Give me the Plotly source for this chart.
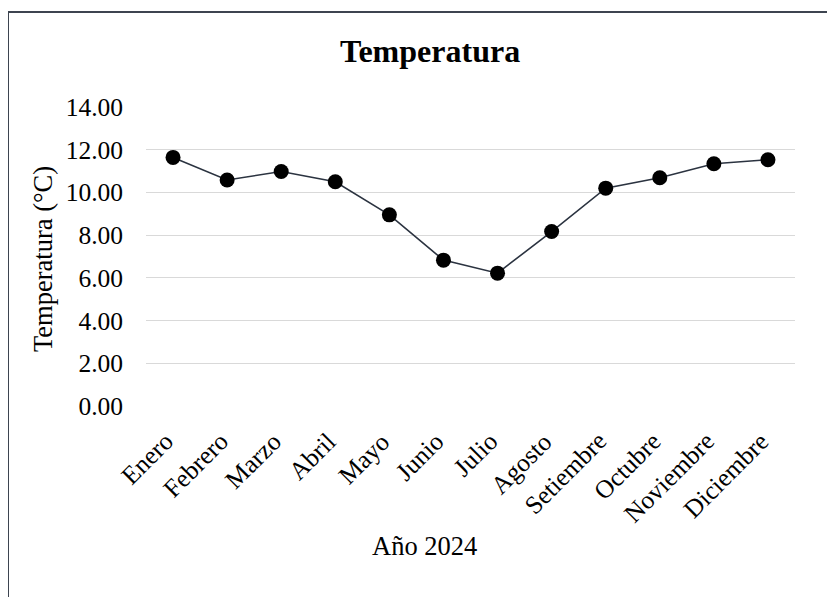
import plotly.graph_objects as go

months = ["Enero", "Febrero", "Marzo", "Abril", "Mayo", "Junio", "Julio",
          "Agosto", "Setiembre", "Octubre", "Noviembre", "Diciembre"]
temps = [11.64, 10.58, 10.98, 10.50, 8.95, 6.83, 6.22, 8.17, 10.20, 10.69, 11.34, 11.53]
y_ticks = [0, 2, 4, 6, 8, 10, 12, 14]
y_tick_text = [f"{v:.2f}" for v in y_ticks]

OFF = 8  # page body margin
W, H = 835, 597
# target plot area in screen pixels
SX0, SX1, SY0, SY1 = 146, 795, 107, 406
L = SX0 - OFF
T = SY0 - OFF
R = W - (SX1 - OFF)
B = H - (SY1 - OFF)
pw, ph = SX1 - SX0, SY1 - SY0

def px_x(x):
    return (x - SX0) / pw

def px_y(y):
    return (SY1 - y) / ph

font = "Liberation Serif, Times New Roman, serif"

fig = go.Figure()
fig.add_trace(go.Scatter(
    x=months, y=temps, mode="lines+markers",
    line=dict(color="#2b3340", width=1.6),
    marker=dict(color="black", size=15),
    showlegend=False,
))

month_labels = [
    dict(text=m, xref="x", yref="paper", x=m, y=px_y(424),
         xanchor="right", yanchor="top", xshift=9, textangle=-45,
         showarrow=False, font=dict(size=25.5))
    for m in months
]

fig.update_layout(
    width=W, height=H,
    margin=dict(l=L, r=R, t=T, b=B),
    paper_bgcolor="white", plot_bgcolor="white",
    font=dict(family=font, size=25.5, color="black"),
    xaxis=dict(
        type="category", range=[-0.5, 11.5],
        showgrid=False, zeroline=False, showline=False,
        ticks="", showticklabels=False,
    ),
    yaxis=dict(
        range=[0, 14], tickvals=y_ticks, ticktext=y_tick_text,
        showgrid=True, gridcolor="#d9d9d9", gridwidth=1.4,
        zeroline=False, showline=False, ticks="",
        ticklabelstandoff=22, tickfont=dict(size=25.5),
    ),
    shapes=[dict(
        type="rect", xref="paper", yref="paper",
        x0=px_x(8), x1=px_x(880), y0=px_y(640), y1=px_y(12),
        line=dict(color="#3d4450", width=2), fillcolor="rgba(0,0,0,0)",
        layer="above",
    )],
    annotations=month_labels + [
        dict(text="<b>Temperatura</b>", xref="paper", yref="paper",
             x=px_x(430), y=px_y(51), xanchor="center", yanchor="middle",
             showarrow=False, font=dict(size=32)),
        dict(text="Año 2024", xref="paper", yref="paper",
             x=px_x(424), y=px_y(546), xanchor="center", yanchor="middle",
             showarrow=False, font=dict(size=26.5)),
        dict(text="Temperatura (°C)", xref="paper", yref="paper",
             x=px_x(43), y=px_y(259), xanchor="center", yanchor="middle",
             textangle=-90, showarrow=False, font=dict(size=26.5)),
    ],
)

fig.write_html("out.html")
